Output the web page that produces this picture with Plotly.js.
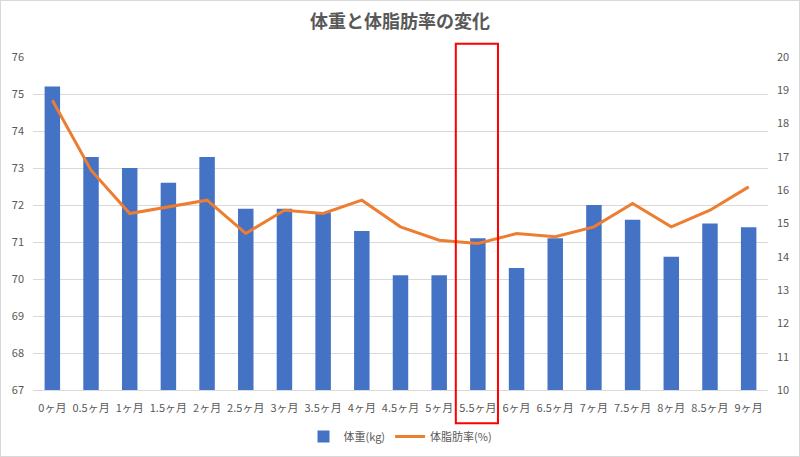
<!DOCTYPE html>
<html><head><meta charset="utf-8">
<script src="https://cdn.plot.ly/plotly-3.0.1.min.js"></script>
<style>html,body{margin:0;padding:0;background:#fff}#c{width:798px;height:455px;border:1px solid #d9d9d9}</style>
</head><body><div id="c"></div>
<script>
const categories = ["0ヶ月","0.5ヶ月","1ヶ月","1.5ヶ月","2ヶ月","2.5ヶ月","3ヶ月","3.5ヶ月","4ヶ月","4.5ヶ月","5ヶ月","5.5ヶ月","6ヶ月","6.5ヶ月","7ヶ月","7.5ヶ月","8ヶ月","8.5ヶ月","9ヶ月"];
const weight = [75.2,73.3,73.0,72.6,73.3,71.9,71.9,71.8,71.3,70.1,70.1,71.1,70.3,71.1,72.0,71.6,70.6,71.5,71.4];
const bodyFat = [18.7,16.6,15.3,15.5,15.7,14.7,15.4,15.3,15.7,14.9,14.5,14.4,14.7,14.6,14.9,15.6,14.9,15.4,16.1];
const leftTicks = [67,68,69,70,71,72,73,74,75,76];
const rightTicks = [10,11,12,13,14,15,16,17,18,19,20];
const highlight = "5.5ヶ月";

const font = {family:'"Noto Sans CJK JP", "Noto Sans", sans-serif', color:'#595959', size:11};
const hi = categories.indexOf(highlight);
const data = [
  {type:'bar', x:categories, y:weight, name:'体重(kg)', marker:{color:'#4472c4'}, yaxis:'y'},
  {type:'scatter', mode:'lines', x:categories, y:bodyFat, name:'体脂肪率(%)', line:{color:'#ed7d31', width:3}, yaxis:'y2'}
];
const layout = {
  width:798, height:455,
  margin:{l:32, r:31, t:56, b:66, autoexpand:false},
  paper_bgcolor:'#fff', plot_bgcolor:'#fff',
  font:font,
  title:{text:'<b>体重と体脂肪率の変化</b>', x:0.5, y:0.955, yanchor:'middle', font:{family:font.family, size:18, color:'#595959'}},
  bargap:0.6,
  showlegend:true,
  legend:{orientation:'h', x:0.5, xanchor:'center', y:-0.14, yanchor:'middle', bgcolor:'rgba(0,0,0,0)', font:{size:11, color:'#595959'}},
  xaxis:{type:'category', showgrid:false, showline:true, linecolor:'#d9d9d9', ticks:'', tickfont:{size:11}, tickangle:0, ticklabelstandoff:8},
  yaxis:{range:[67,76], tickvals:leftTicks, showgrid:true, gridcolor:'#d9d9d9', zeroline:false, ticks:'', tickfont:{size:11}, ticklabelstandoff:8},
  yaxis2:{range:[10,20], tickvals:rightTicks, overlaying:'y', side:'right', showgrid:false, zeroline:false, ticks:'', tickfont:{size:11}, ticklabelstandoff:8},
  shapes:[{type:'rect', xref:'x', yref:'paper', x0:hi-0.57, x1:hi+0.52, y0:-0.1, y1:1.04, line:{color:'#ff0000', width:2}, fillcolor:'rgba(0,0,0,0)', layer:'above'}]
};
Plotly.newPlot('c', data, layout, {displayModeBar:false, staticPlot:true});
</script></body></html>
